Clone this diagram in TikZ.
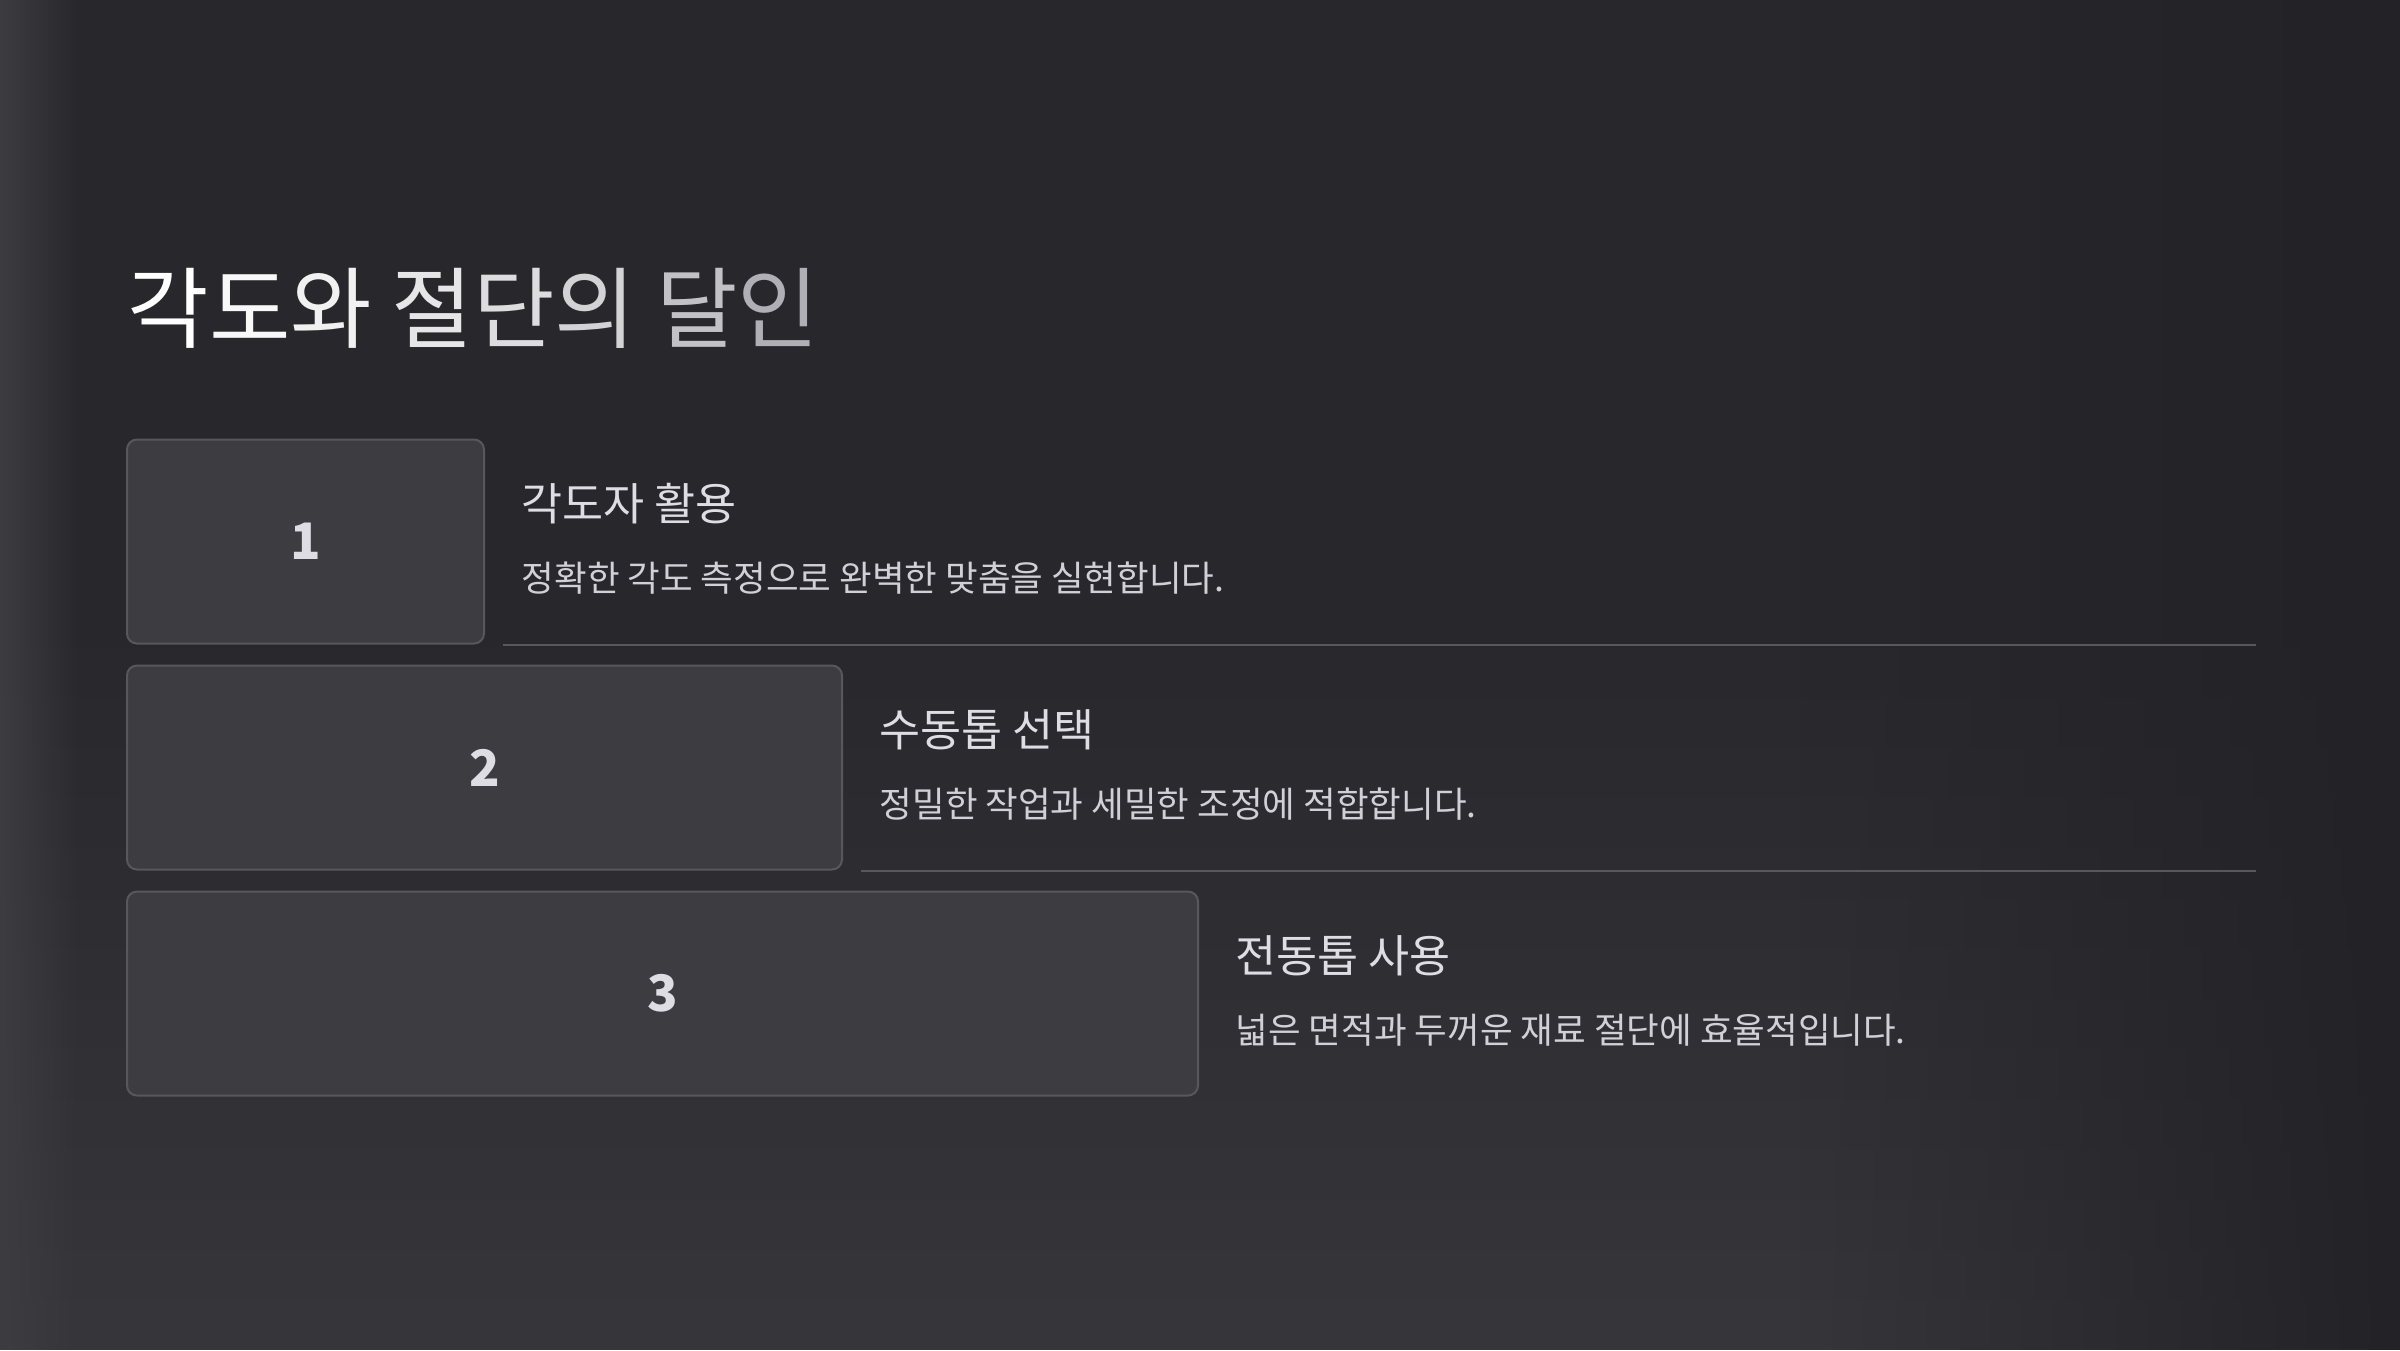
\documentclass[tikz,border=0pt]{standalone}
\usepackage{fontspec}
\setmainfont{Noto Sans CJK KR}
\usepackage{xcolor}
\definecolor{slatebg}{HTML}{27272C}
\definecolor{slatelow}{HTML}{36363B}
\definecolor{slateedge}{HTML}{3C3C41}
\definecolor{slatedark}{HTML}{232327}
\definecolor{stepfill}{HTML}{3C3C41}
\definecolor{stepedge}{HTML}{57575C}
\definecolor{headgrey}{HTML}{DDDDE3}
\definecolor{descgrey}{HTML}{D0D0D6}
\definecolor{titlegrey}{HTML}{A6A6AD}
\newcommand{\titlech}[2]{\textcolor{white!#1!titlegrey}{#2}}
\usetikzlibrary{positioning,calc,fadings}

\begin{document}
\begin{tikzpicture}[
    node distance=0.2cm,
    stepbox/.style={rectangle, draw=stepedge, line width=0.02cm, rounded corners=0.1cm, fill=stepfill, minimum height=2.04cm, inner sep=0, text=headgrey, font=\fontsize{14.3}{16}\selectfont\bfseries},
    headline/.style={anchor=west, inner sep=0, text=headgrey, font=\fontsize{12.7}{15}\selectfont},
    detail/.style={anchor=west, inner sep=0, text=descgrey, font=\fontsize{10.1}{12}\selectfont},
    rule/.style={draw=stepedge, line width=0.02cm}
]

% background
\useasboundingbox (0,0) rectangle (24,-13.5);
\fill[slatebg] (0,0) rectangle (24,-13.5);
\fill[slatelow, path fading=north] (0,-6) rectangle (24,-13.5);
\fill[slatedark, path fading=west] (18,0) rectangle (24,-13.5);
\fill[slateedge, path fading=east] (0,0) rectangle (0.8,-13.5);

% title
\node[anchor=west, inner sep=0, font=\fontsize{25.2}{30}\selectfont] (title) at (1.27,-3.08)
    {\titlech{100}{각}\titlech{92}{도}\titlech{84}{와} \titlech{72}{절}\titlech{62}{단}\titlech{50}{의} \titlech{30}{달}\titlech{10}{인}};

% steps
\coordinate (edge) at (22.56,0);

\node[stepbox, minimum width=3.57cm] (s1) at (3.055,-5.415) {1};
\node[headline] (h1) at ([xshift=0.36cm, yshift=0.38cm]s1.east) {각도자 활용};
\node[detail] (d1) at ([yshift=-0.75cm]h1.west) {정확한 각도 측정으로 완벽한 맞춤을 실현합니다.};
\draw[rule] ([xshift=0.18cm]s1.south east) -- (s1.south east -| edge);

\node[stepbox, minimum width=7.15cm, below right=0.2cm and 0cm of s1.south west] (s2) {2};
\node[headline] (h2) at ([xshift=0.36cm, yshift=0.38cm]s2.east) {수동톱 선택};
\node[detail] (d2) at ([yshift=-0.75cm]h2.west) {정밀한 작업과 세밀한 조정에 적합합니다.};
\draw[rule] ([xshift=0.18cm]s2.south east) -- (s2.south east -| edge);

\node[stepbox, minimum width=10.71cm, below right=0.2cm and 0cm of s2.south west] (s3) {3};
\node[headline] (h3) at ([xshift=0.36cm, yshift=0.38cm]s3.east) {전동톱 사용};
\node[detail] (d3) at ([yshift=-0.75cm]h3.west) {넓은 면적과 두꺼운 재료 절단에 효율적입니다.};

\end{tikzpicture}
\end{document}
